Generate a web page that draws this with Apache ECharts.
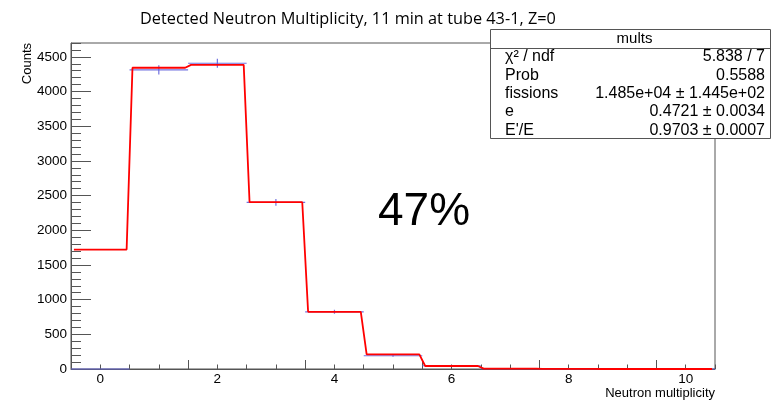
<!DOCTYPE html>
<html>
<head>
<meta charset="utf-8">
<script src="https://cdn.jsdelivr.net/npm/echarts@6/dist/echarts.min.js"></script>
<style>html,body{margin:0;padding:0;background:#fff;}#c{width:782px;height:402px;}</style>
</head>
<body>
<div id="c"></div>
<script>
// ---- data ----
const bins = [0, 1, 2, 3, 4, 5, 6, 7, 8, 9, 10];
const counts = [0, 4313, 4408, 2403, 825, 191, 47, 6, 1, 0, 0];
const countErrors = [0, 66, 66, 49, 29, 14, 7, 2.4, 1, 0, 0];
const fitValues = [1722, 4343, 4385, 2405, 825, 210, 43, 5, 0.6, 0, 0];
const xTickLabels = [0, 2, 4, 6, 8, 10];
const yTickLabels = [0, 500, 1000, 1500, 2000, 2500, 3000, 3500, 4000, 4500];
const xLongTicks = [1.5, 3.5, 5.5, 7.5, 9.5];
const statNames = ['\u03c7\u00b2 / ndf', 'Prob', 'fissions', 'e', 'E\'/E'];
const statValues = ['5.838 / 7', '0.5588', '1.485e+04 \u00b1 1.445e+02', '0.4721 \u00b1 0.0034', '0.9703 \u00b1 0.0007'];
const titleText = 'Detected Neutron Multiplicity, 11 min at tube 43-1, Z=0';
const bigLabel = '47%';

// ---- build ----
const histData = bins.map((b, i) => [b, counts[i], countErrors[i]]);
const HALF = 0.45;
const fitData = [];
bins.forEach((b, i) => { fitData.push([b - HALF, fitValues[i]]); fitData.push([b + HALF, fitValues[i]]); });

const AX = '#555';
const FONT = 'Liberation Sans, Arial, sans-serif';
const chart = echarts.init(document.getElementById('c'), null, {renderer: 'canvas'});

const graphics = [
  {type: 'text', x: 140, y: 19, style: {text: titleText, font: '16.3px "Open Sans"', fill: '#000', align: 'left', textAlign: 'left', verticalAlign: 'middle', textVerticalAlign: 'middle'}},
  {type: 'text', x: 27, y: 43, rotation: Math.PI / 2, style: {text: 'Counts', font: '13px ' + FONT, fill: '#000', align: 'right', textAlign: 'right', verticalAlign: 'middle', textVerticalAlign: 'middle'}},
  {type: 'text', x: 715, y: 393, style: {text: 'Neutron multiplicity', font: '13px ' + FONT, fill: '#000', align: 'right', textAlign: 'right', verticalAlign: 'middle', textVerticalAlign: 'middle'}},
  {type: 'text', x: 378, y: 212, style: {text: bigLabel, font: '46px ' + FONT, fill: '#000', align: 'left', textAlign: 'left', verticalAlign: 'middle', textVerticalAlign: 'middle'}, z: 50},
  {type: 'rect', shape: {x: 490.5, y: 29.5, width: 280, height: 109}, style: {fill: '#fff', stroke: AX, lineWidth: 1}, z: 60},
  {type: 'line', shape: {x1: 490.5, y1: 48.5, x2: 770.5, y2: 48.5}, style: {stroke: AX, lineWidth: 1}, z: 61},
  {type: 'text', x: 634.5, y: 38.5, style: {text: 'mults', font: '15px ' + FONT, fill: '#000', align: 'center', textAlign: 'center', verticalAlign: 'middle', textVerticalAlign: 'middle'}, z: 62}
];
statNames.forEach((n, i) => {
  const y = 57 + i * 18.3;
  graphics.push({type: 'text', x: 505, y: y, style: {text: n, font: '16px ' + FONT, fill: '#000', align: 'left', textAlign: 'left', verticalAlign: 'middle', textVerticalAlign: 'middle'}, z: 62});
  graphics.push({type: 'text', x: 765, y: y, style: {text: statValues[i], font: '16px ' + FONT, fill: '#000', align: 'right', textAlign: 'right', verticalAlign: 'middle', textVerticalAlign: 'middle'}, z: 62});
});

const plainNum = v => String(v);

chart.setOption({
  animation: false,
  backgroundColor: '#fff',
  grid: {left: 71, right: 67, top: 43, bottom: 33, show: true, borderColor: AX, borderWidth: 1, backgroundColor: 'transparent'},
  xAxis: [
    {type: 'value', min: -0.5, max: 10.5, interval: 0.5, position: 'bottom',
      axisLine: {show: true, onZero: false, lineStyle: {color: AX, width: 1}},
      axisTick: {show: true, inside: true, length: 4.5, lineStyle: {color: AX}},
      axisLabel: {show: true, customValues: xTickLabels, formatter: plainNum, margin: 3, color: '#000', fontFamily: FONT, fontSize: 13.5},
      splitLine: {show: false}},
    {type: 'value', min: -0.5, max: 10.5, interval: 0.5, position: 'bottom',
      axisLine: {show: false, onZero: false},
      axisTick: {show: true, inside: true, length: 9, customValues: xLongTicks, lineStyle: {color: AX}},
      axisLabel: {show: false}, splitLine: {show: false}}
  ],
  yAxis: [
    {type: 'value', min: 0, max: 4700, interval: 500, position: 'left',
      axisLine: {show: true, onZero: false, lineStyle: {color: AX, width: 1}},
      axisTick: {show: true, inside: true, length: 20, customValues: yTickLabels, lineStyle: {color: AX}},
      axisLabel: {show: true, customValues: yTickLabels, formatter: plainNum, margin: 4, color: '#000', fontFamily: FONT, fontSize: 13.5},
      splitLine: {show: false}},
    {type: 'value', min: 0, max: 4700, interval: 100, position: 'left', offset: 0,
      axisLine: {show: false, onZero: false},
      axisTick: {show: true, inside: true, length: 10, lineStyle: {color: AX}},
      axisLabel: {show: false}, splitLine: {show: false}}
  ],
  series: [
    {type: 'custom', xAxisIndex: 0, yAxisIndex: 0, data: histData, encode: {x: 0, y: 1}, z: 3,
      renderItem: function (params, api) {
        const x = api.value(0), v = api.value(1), e = api.value(2);
        const a = api.coord([x - 0.5, v]), b = api.coord([x + 0.5, v]);
        const t = api.coord([x, v + e]), d = api.coord([x, v - e]);
        const st = {stroke: '#6262dc', lineWidth: 1.2, opacity: 0.9};
        return {type: 'group', children: [
          {type: 'line', shape: {x1: a[0], y1: a[1], x2: b[0], y2: b[1]}, style: st},
          {type: 'line', shape: {x1: t[0], y1: t[1], x2: d[0], y2: d[1]}, style: st}
        ]};
      }},
    {type: 'line', xAxisIndex: 0, yAxisIndex: 0, data: fitData, showSymbol: false, symbol: 'none', z: 4,
      lineStyle: {color: '#ff0000', width: 1.8}}
  ],
  graphic: graphics
});
</script>
</body>
</html>
